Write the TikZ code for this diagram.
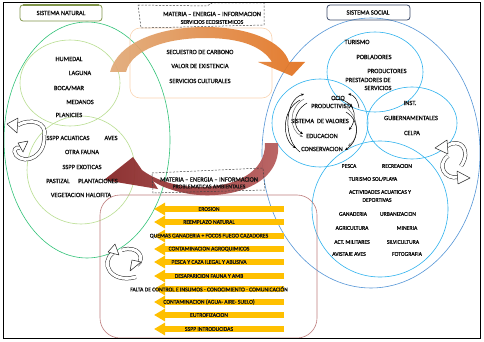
\documentclass[tikz,border=0pt]{standalone}
\usepackage{fontspec}
\setmainfont{Carlito}[RawFeature={embolden=1.2}]
\usetikzlibrary{arrows.meta}
\definecolor{natgreen}{RGB}{50,195,120}
\definecolor{lgreen}{RGB}{185,222,145}
\definecolor{olivebox}{RGB}{130,150,75}
\definecolor{navybox}{RGB}{60,75,105}
\definecolor{bigblue}{RGB}{85,150,215}
\definecolor{cyanb}{RGB}{45,178,238}
\definecolor{peach}{RGB}{250,212,178}
\definecolor{rosebox}{RGB}{190,125,125}
\definecolor{myyellow}{RGB}{255,192,0}
\definecolor{txt}{RGB}{20,20,20}
\definecolor{darkorange}{RGB}{226,112,28}
\definecolor{lightorange}{RGB}{225,170,120}
\definecolor{darkred}{RGB}{135,40,40}
\definecolor{lightred}{RGB}{185,95,95}

\begin{document}
\begin{tikzpicture}[x=1pt,y=-1pt,
  lbl/.style={font=\fontsize{6.4}{7}\selectfont,text=txt,inner sep=0pt},
  sml/.style={font=\fontsize{5.7}{6.5}\selectfont,text=txt,inner sep=0pt},
  yarr/.style={draw=myyellow,line width=5.5pt,-{Triangle[length=11pt,width=12pt]}},
  band/.style={double=white,double distance=3pt,line width=0.5pt,draw=black!85},
  head/.style={fill=white,draw=black!85,line width=0.5pt,line join=round},
  loop/.style={-{Stealth[length=3pt,width=2.5pt]},line width=0.5pt}]
\useasboundingbox (0,0) rectangle (484,342);
\fill[white] (0,0) rectangle (484,342);

% sistema natural
\draw[natgreen,line width=0.6pt] (87,140) ellipse [x radius=83, y radius=118];
\draw[lgreen,line width=0.6pt] (70,83) ellipse [x radius=50, y radius=43];
\draw[lgreen,line width=0.6pt] (81,170) circle [radius=54];

% sistema social
\draw[bigblue,line width=0.6pt] (371,153) ellipse [x radius=109, y radius=135];
\draw[cyanb,line width=0.6pt] (375,72) ellipse [x radius=48, y radius=40];
\draw[cyanb,line width=0.6pt] (320,123) ellipse [x radius=48, y radius=44];
\draw[cyanb,line width=0.6pt] (412,123) ellipse [x radius=45, y radius=36];
\draw[cyanb,line width=0.6pt] (380,209) circle [radius=68];

% cajas
\draw[peach,line width=0.6pt,rounded corners=10pt] (130,28) rectangle (272,98);
\draw[rosebox,line width=0.6pt,rounded corners=20pt] (100,195) rectangle (317,338);

% flecha superior
\shade[left color=lightorange,right color=darkorange,fill opacity=0.92]
  (110,72) .. controls (118,42) and (160,27) .. (205,27)
  .. controls (250,27) and (283,42) .. (289,62)
  -- (305,62) -- (292,76) -- (258,62) -- (272,62)
  .. controls (262,46) and (240,38) .. (205,38)
  .. controls (170,38) and (132,48) .. (126,72) -- cycle;

% flecha inferior
\shade[left color=darkred,right color=lightred,fill opacity=0.95]
  (278,143) .. controls (282,185) and (230,200) .. (190,194)
  .. controls (172,191) and (160,186) .. (153,181)
  -- (158,189) -- (104,180) -- (133,157) -- (142,170)
  .. controls (155,180) and (175,186) .. (195,187)
  .. controls (235,188) and (266,172) .. (265,143) -- cycle;

% titulos
\draw[olivebox,line width=0.8pt,rounded corners=3pt] (20,5) rectangle (102,21);
\draw[olivebox,line width=1.6pt] (23,5) -- (99,5);
\node[lbl] (natTitle) at (61,13) {SISTEMA NATURAL};
\draw[navybox,line width=0.8pt,rounded corners=3pt] (327,5) rectangle (410,20);
\node[lbl] (socTitle) at (368,12.5) {SISTEMA SOCIAL};

% recuadros punteados
\draw[black!75,line width=0.5pt,dash pattern=on 2pt off 1.5pt]
  (138,5) -- (207,6) -- (212,3) -- (264,3) -- (264,25) -- (141,28) -- cycle;
\node[lbl] (flujoA) at (212,14) {MATERIA -- ENERGIA -- INFORMACION};
\node[sml] (servA) at (212,22) {SERVICIOS ECOSISTEMICOS};
\draw[black!75,line width=0.5pt,dash pattern=on 2pt off 1.5pt]
  (152,173) -- (263,168) -- (265,190) -- (153,193) -- cycle;
\node[lbl] (flujoB) at (209,179.5) {MATERIA -- ENERGIA -- INFORMACION};
\node[sml] (probB) at (209,186.5) {PROBLEMATICAS AMBIENTALES};

% servicios
\node[lbl] (secuestro) at (200,52) {SECUESTRO DE CARBONO};
\node[lbl] (valor) at (200,66) {VALOR DE EXISTENCIA};
\node[lbl] (cultura) at (200,81) {SERVICIOS CULTURALES};

% natural
\node[lbl] (humedal) at (69,59) {HUMEDAL};
\node[lbl] (laguna) at (80,73) {LAGUNA};
\node[lbl] (boca) at (69,88) {BOCA/MAR};
\node[lbl] (medanos) at (80,102) {MEDANOS};
\node[lbl] (planicies) at (69,115) {PLANICIES};
\node[lbl] (acuaticas) at (68,138) {SSPP ACUATICAS};
\node[lbl] (aves) at (111,138) {AVES};
\node[lbl] (fauna) at (82,152) {OTRA FAUNA};
\node[lbl] (exoticas) at (82,167) {SSPP EXOTICAS};
\node[lbl] (pastizal) at (58,181) {PASTIZAL};
\node[lbl] (plantac) at (98,181) {PLANTACIONES};
\node[lbl] (halofita) at (81,195) {VEGETACION HALOFITA};

% social
\node[lbl] (turismo) at (357,42) {TURISMO};
\node[lbl] (pobladores) at (374,57) {POBLADORES};
\node[lbl] (productores) at (387,71) {PRODUCTORES};
\node[lbl] (prestadores) at (368,80) {PRESTADORES DE};
\node[lbl] (servicios) at (378,88) {SERVICIOS};
\node[lbl] (ocio) at (338,98) {OCIO};
\node[lbl] (productiv) at (332,106) {PRODUCTIVISTA};
\node[lbl] (valores) at (320,121) {SISTEMA \ DE VALORES};
\node[lbl] (educacion) at (322,136) {EDUCACION};
\node[lbl] (conserv) at (322,149) {CONSERVACION};
\node[lbl] (inst) at (410,103) {INST.};
\node[lbl] (gubern) at (411,118) {GUBERNAMENTALES};
\node[lbl] (celpa) at (412,133) {CELPA};
\node[sml] (pesca) at (349,166) {PESCA};
\node[sml] (recreacion) at (397,166) {RECREACION};
\node[sml] (solplaya) at (373,179) {TURISMO SOL/PLAYA};
\node[sml] (actividades) at (380,192) {ACTIVIDADES ACUATICAS Y};
\node[sml] (deportivas) at (377,200) {DEPORTIVAS};
\node[sml] (ganaderia) at (353,214) {GANADERIA};
\node[sml] (urbaniz) at (398,214) {URBANIZACION};
\node[sml] (agricultura) at (352,228) {AGRICULTURA};
\node[sml] (mineria) at (407,228) {MINERIA};
\node[sml] (militares) at (352,242) {ACT. MILITARES};
\node[sml] (silvicult) at (403,242) {SILVICULTURA};
\node[sml] (avistaje) at (349,254) {AVISTAJE AVES};
\node[sml] (fotografia) at (407,254) {FOTOGRAFIA};

% flechas del sistema de valores
\draw[loop] (300,152) .. controls (283,140) and (284,100) .. (304,94);
\draw[loop,black!55] (304,99) .. controls (288,108) and (289,130) .. (303,137);
\draw[loop] (300,100) .. controls (281,110) and (282,140) .. (296,148);
\draw[loop] (307,103) .. controls (292,112) and (293,128) .. (303,134);
\draw[loop] (332,100) .. controls (352,96) and (360,115) .. (349,130);
\draw[loop,black!55] (340,104) .. controls (360,112) and (360,138) .. (348,146);
\draw[loop] (346,112) .. controls (362,122) and (358,142) .. (345,150);
\draw[loop] (359,108) .. controls (358,100) and (354,95) .. (348,94);

% problematicas
\foreach \y/\t [count=\i] in {
  209/EROSION,
  222/REEMPLAZO NATURAL/PRODUCTIVO,
  236/QUEMAS GANADERIA + FOCOS FUEGO CAZADORES,
  249/CONTAMINACION AGROQUIMICOS,
  262/PESCA Y CAZA ILEGAL Y ABUSIVA,
  276/DESAPARICION FAUNA Y AMB,
  289/FALTA DE CONTROL E INSUMOS - CONOCIMIENTO - COMUNICACIÓN,
  302/CONTAMINACION (AGUA- AIRE- SUELO),
  315/EUTROFIZACION,
  329/SSPP INTRODUCIDAS}{
  \coordinate (cola\i) at (284,\y);
  \coordinate (punta\i) at (154,\y);
  \draw[yarr] (cola\i) -- (punta\i);
  \node[sml] (prob\i) at (209,\y) {\t};
}

% ciclos
\draw[band] (44,136) .. controls (48,122) and (30,118) .. (18,125);
\draw[head] (18,118) -- (7,124) -- (17,133) -- cycle;
\draw[band] (44,136) .. controls (46,155) and (26,166) .. (16,155)
  .. controls (13,150) and (15,147) .. (20,148);
\draw[head] (18,143) -- (28,141) -- (23,152) -- cycle;

\draw[band] (136,277) .. controls (110,284) and (100,262) .. (113,253);
\draw[head] (108,252) -- (115,244) -- (119,255) -- cycle;
\draw[band] (122,250) .. controls (138,245) and (146,258) .. (137,265);
\draw[head] (141,262) -- (130,271) -- (132,260) -- cycle;

\draw[band] (461,166) .. controls (472,150) and (460,137) .. (447,146);
\draw[head] (447,140) -- (435,148) -- (448,154) -- cycle;
\draw[band] (448,156) .. controls (436,165) and (445,180) .. (458,177);
\draw[head] (457,171) -- (470,178) -- (458,184) -- cycle;

% marco
\draw[black,line width=0.8pt] (3,2) rectangle (480,338);
\end{tikzpicture}
\end{document}
